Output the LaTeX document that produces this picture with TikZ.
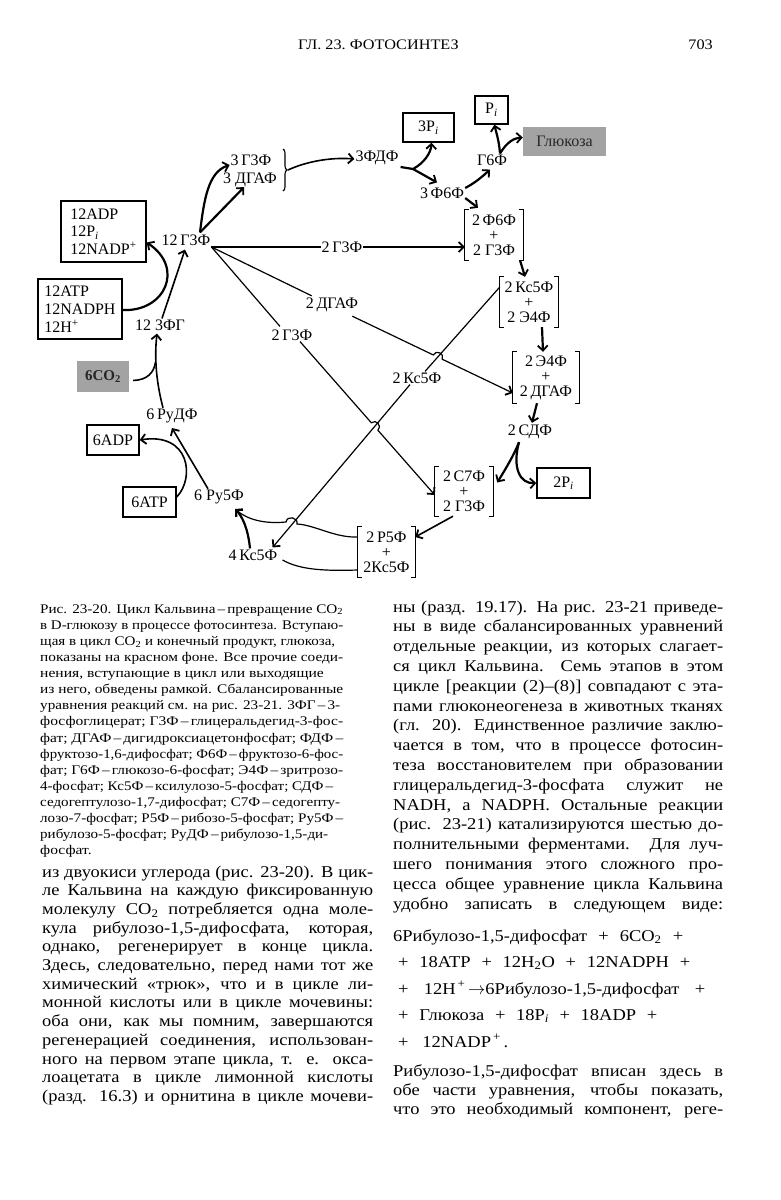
\documentclass[tikz,border=0pt]{standalone}
\usepackage{graphicx}
\usepackage{fontspec}
\setmainfont{Liberation Serif}[FakeStretch=1.12]
\newfontfamily\capfont{Liberation Serif}[FakeStretch=1.18]
\newfontfamily\diagfont{Liberation Serif}
\usetikzlibrary{arrows.meta,calc,decorations.pathreplacing}
\definecolor{greyfill}{gray}{0.64}
\newcommand\sqbr[1]{%
  \draw[line width=1.2pt] ([xshift=4pt]#1.north west) -- (#1.north west) -- (#1.south west) -- ([xshift=4pt]#1.south west);
  \draw[line width=1.2pt] ([xshift=-4pt]#1.north east) -- (#1.north east) -- (#1.south east) -- ([xshift=-4pt]#1.south east);}
\newcommand\sub[1]{\textsubscript{#1}}
\newsavebox\jlbox
\newcommand\jl[2]{\sbox\jlbox{#2}\ifdim\wd\jlbox>#1\relax\resizebox{#1}{\height}{\usebox\jlbox}\else\makebox[#1][s]{#2}\fi}
\begin{document}
\begin{tikzpicture}[x=1pt,y=-1pt,
  lab/.style={font=\diagfont\fontsize{16}{15}\selectfont, inner sep=1pt},
  boxn/.style={draw, line width=1.4pt, inner sep=0pt, font=\diagfont\fontsize{16}{17.5}\selectfont},
  greyb/.style={fill=greyfill, inner sep=0pt, font=\diagfont\fontsize{16}{17}\selectfont, text=black!85},
  brnode/.style={font=\diagfont\fontsize{16}{15}\selectfont, align=center, inner sep=0pt},
  thinl/.style={line width=1.2pt},
  midl/.style={line width=1.6pt},
  thickl/.style={line width=2.2pt},
  arr/.style={-{Straight Barb[length=5pt,width=10pt,line width=1.8pt]}},
  captxt/.style={anchor=base west, inner sep=0pt, font=\capfont\fontsize{13.2}{14}\selectfont},
  bodytxt/.style={anchor=base west, inner sep=0pt, font=\fontsize{16.5}{18}\selectfont},
]
\fill[white] (0,0) rectangle (781,1200);
\useasboundingbox (0,0) rectangle (781,1200);

% ---------- header ----------
\node[anchor=base west, inner sep=0pt, font=\fontsize{14.5}{16}\selectfont] (hdr) at (298,49) {ГЛ.\ 23.\ ФОТОСИНТЕЗ};
\node[anchor=base east, inner sep=0pt, font=\fontsize{14.5}{16}\selectfont] (pg) at (713,49) {703};

% ---------- diagram nodes ----------
\node[lab] (g12) at (186,240) {12\,Г3Ф};
\node[lab] (fg12) at (160,325) {12 3ФГ};
\node[boxn, minimum width=85pt, minimum height=61pt, align=left] (bADP12) at (103.5,231.5) {12ADP\\12P\sub{\textit{i}}\\12NADP\textsuperscript{+}};
\node[boxn, minimum width=84pt, minimum height=60pt, align=left, font=\diagfont\fontsize{16}{18}\selectfont] (bATP12) at (80,309) {12ATP\\12NADPH\\12H\textsuperscript{+}};
\node[lab] (t3G3F) at (251,160) {3\,Г3Ф};
\node[lab] (t3DGAF) at (250,180) {3 ДГАФ};
\coordinate (brtop) at (283,149);
\coordinate (brbot) at (283,191);
\coordinate (brtip) at (288,170);
\node[lab] (t3FDF) at (377,158) {3ФДФ};
\node[boxn, minimum width=51pt, minimum height=29pt] (b3Pi) at (428.5,127.5) {3P\sub{\textit{i}}};
\node[boxn, minimum width=33pt, minimum height=28pt] (bPi) at (491.5,110) {P\sub{\textit{i}}};
\node[greyb, minimum width=83pt, minimum height=29pt] (gluc) at (564.5,141.5) {Глюкоза};
\node[lab] (tG6F) at (492,160) {Г6Ф};
\node[lab] (t3F6F) at (442,193) {3\,Ф6Ф};
\node[brnode, minimum width=58pt, minimum height=50pt] (br1) at (494,235) {2\,Ф6Ф\\+\\2 Г3Ф};
\node[brnode, minimum width=58pt, minimum height=50pt] (br2) at (529,302) {2\,Кс5Ф\\+\\2 Э4Ф};
\node[brnode, minimum width=66pt, minimum height=51pt] (br3) at (546,377.5) {2\,Э4Ф\\+\\2\,ДГАФ};
\node[lab] (t2CDF) at (530,432) {2\,СДФ};
\node[boxn, minimum width=53pt, minimum height=30pt] (b2Pi) at (563.5,483) {2P\sub{\textit{i}}};
\node[brnode, minimum width=58pt, minimum height=49pt] (br4) at (464,491.5) {2\,С7Ф\\+\\2 Г3Ф};
\node[brnode, minimum width=57pt, minimum height=50pt] (br5) at (386.5,552) {2\,Р5Ф\\+\\2Кс5Ф};
\node[lab] (t4Kc5F) at (253,555) {4\,Кс5Ф};
\node[lab] (tPy5F) at (219,497) {6 Ру5Ф};
\node[boxn, minimum width=53pt, minimum height=30pt] (b6ATP) at (149.5,502) {6ATP};
\node[boxn, minimum width=52pt, minimum height=30pt] (b6ADP) at (113,440) {6ADP};
\node[lab] (tPyDF) at (172,416) {6\,РуДФ};
\node[greyb, minimum width=52pt, minimum height=31pt, font=\diagfont\bfseries\fontsize{15}{17}\selectfont] (co2) at (103,376.5) {6CO\sub{2}};
\node[lab] (t2G3Fa) at (342,247) {2\,Г3Ф};
\node[lab] (t2DGAF) at (332,305) {2\,ДГАФ};
\node[lab] (t2G3Fb) at (292,335) {2\,Г3Ф};
\node[lab] (t2Kc5F) at (417,378) {2\,Кс5Ф};

\sqbr{br1}\sqbr{br2}\sqbr{br3}\sqbr{br4}\sqbr{br5}
\draw[decorate, decoration={brace, amplitude=4pt}, line width=1.1pt] (brtop) -- (brbot);

% ---------- connector coordinates ----------
\coordinate (o) at ([yshift=-7pt]g12.east);
\coordinate (d1) at ([xshift=7pt,yshift=1pt]t2DGAF.north west);
\coordinate (d2) at ([xshift=-7pt,yshift=-3pt]t2DGAF.south east);
\coordinate (d3) at ([yshift=-15.5pt]br3.west);
\coordinate (k1) at ([yshift=15pt]br2.west);
\coordinate (k2) at ([xshift=8pt]t2Kc5F.north);
\coordinate (k3) at ([xshift=-7pt]t2Kc5F.south);
\coordinate (k4) at ([xshift=-6pt,yshift=1pt]t4Kc5F.north east);
\coordinate (g0) at ([xshift=-12pt,yshift=2pt]t2G3Fb.north);
\coordinate (g1) at ([xshift=8pt]t2G3Fb.south);
\coordinate (g2) at ([yshift=-3.5pt]br4.west);
\coordinate (x1) at (intersection of d2--d3 and k1--k2);
\coordinate (x2) at (intersection of g1--g2 and k3--k4);
\coordinate (hA) at (297,524);
\coordinate (hB) at (286,522);
\coordinate (p1) at ([yshift=15pt]br5.west);
\coordinate (pyin) at (235,509);
\coordinate (co2j) at (155.5,362);
\coordinate (j1) at (413,169);
\coordinate (j2) at ([xshift=8pt]tG6F.north);
\coordinate (j3) at ([xshift=-11pt,yshift=-2pt]t2CDF.south);

% ---------- long thin connectors ----------
\draw[thinl] (o) -- (o -| t2G3Fa.west);
\draw[thinl,arr] (t2G3Fa.east) -- (t2G3Fa.east -| br1.west);
\draw[thinl] (o) -- (d1);
\draw[thinl,arr] (d2) -- ($(x1)!5pt!(d2)$) to[bend left=90, looseness=1.6] ($(x1)!5pt!(d3)$) -- (d3);
\draw[thinl] (o) -- (g0);
\draw[thinl,arr] (g1) -- ($(x2)!5pt!(g1)$) to[bend left=90, looseness=1.6] ($(x2)!5pt!(g2)$) -- (g2);
\draw[thinl] (k1) -- (k2);
\draw[thinl,arr] (k3) -- (k4);
\draw[thinl,arr] (p1) .. controls (335,538) and (315,525) .. (hA) to[bend right=90, looseness=1.6] (hB) .. controls (265,524) and (248,520) .. (pyin);
\draw[thinl] ([yshift=-18pt]br5.west) .. controls (325,571) and (300,570) .. ([xshift=4pt,yshift=-5pt]t4Kc5F.east);

% ---------- left side ----------
\draw[thickl,arr] ([xshift=-3pt]t4Kc5F.north) .. controls (248,528) and (242,516) .. (pyin);
\draw[midl,arr] ([xshift=-11pt]tPy5F.north) -- ([yshift=-12pt]tPyDF.center);
\draw[midl,arr] ([yshift=5pt]b6ATP.east) .. controls (195,478) and (190,432) .. (b6ADP.east);
\draw[midl,arr] ([xshift=-9pt]tPyDF.north) .. controls (157,385) and (154,360) .. ([xshift=-3pt,yshift=-2pt]fg12.south);
\draw[midl] ([xshift=4pt,yshift=-4pt]co2.east) .. controls (147,380) and (154,373) .. (co2j);
\draw[midl,arr] ([xshift=2pt]fg12.north) -- ([xshift=-1pt,yshift=-3pt]g12.south);
\draw[thickl,arr] ([yshift=-1pt]bATP12.east) .. controls (165,312) and (185,268) .. ([yshift=-11pt]bADP12.east);

% ---------- top ----------
\draw[thickl,arr] ([xshift=14pt,yshift=1pt]g12.north) .. controls (204,200) and (208,172) .. ([yshift=-5pt]t3G3F.west);
\draw[thickl,arr] ([xshift=14pt,yshift=1pt]g12.north) -- ([xshift=-6pt,yshift=1pt]t3DGAF.south);
\draw[midl,arr] (brtip) .. controls (305,162) and (330,157) .. ([yshift=-1pt]t3FDF.west);
\draw[thickl] ([xshift=1pt,yshift=-9pt]t3FDF.east) -- (j1);
\draw[thickl,arr] (j1) .. controls (424,163) and (431,153) .. ([xshift=3pt]b3Pi.south);
\draw[thickl,arr] (j1) -- ([xshift=-5pt,yshift=4pt]t3F6F.north);
\draw[thickl,arr] ([yshift=5pt]t3F6F.east) .. controls (475,183) and (483,176) .. ([xshift=-2pt,yshift=-3pt]tG6F.south);
\draw[thickl,arr] ([yshift=-5pt]t3F6F.east) -- ([xshift=-16pt,yshift=2pt]br1.north);
\draw[thickl,arr] (j2) .. controls (499,140) and (496,132) .. ([xshift=3pt]bPi.south);
\draw[thickl,arr] (j2) .. controls (507,142) and (514,138) .. ([yshift=4pt]gluc.west);

% ---------- right side ----------
\draw[thickl,arr] ([xshift=26pt]br1.south) -- ([xshift=-4pt]br2.north);
\draw[thickl,arr] ([xshift=13pt]br2.south) -- ([xshift=-3pt]br3.north);
\draw[thickl,arr] ([xshift=-9pt]br3.south) -- ([xshift=2pt,yshift=1pt]t2CDF.north);
\draw[thickl,arr] (j3) .. controls (514,455) and (505,470) .. ([xshift=4pt,yshift=9pt]br4.east);
\draw[thickl,arr] (j3) .. controls (512,468) and (520,484) .. (b2Pi.west);
\draw[midl,arr] ([xshift=-11pt]br4.south) -- ([yshift=15pt]br5.east);

% ---------- caption ----------
\foreach \w/\t [count=\i] in {
 303/{Рис. 23-20. Цикл Кальвина\,–\,превращение CO\sub{2}},
 303/{в D-глюкозу в процессе фотосинтеза. Вступаю-},
 295/{щая в цикл CO\sub{2} и конечный продукт, глюкоза,},
 303/{показаны на красном фоне. Все прочие соеди-},
 0/{нения, вступающие в цикл или выходящие},
 303/{из него, обведены рамкой. Сбалансированные},
 300/{уравнения реакций см. на рис. 23-21. 3ФГ\,–\,3-},
 303/{фосфоглицерат; Г3Ф\,–\,глицеральдегид-3-фос-},
 303/{фат; ДГАФ\,–\,дигидроксиацетонфосфат; ФДФ\,–},
 303/{фруктозо-1,6-дифосфат; Ф6Ф\,–\,фруктозо-6-фос-},
 303/{фат; Г6Ф\,–\,глюкозо-6-фосфат; Э4Ф\,–\,зритрозо-},
 293/{4-фосфат; Кс5Ф\,–\,ксилулозо-5-фосфат; СДФ\,–},
 300/{седогептулозо-1,7-дифосфат; С7Ф\,–\,седогепту-},
 303/{лозо-7-фосфат; Р5Ф\,–\,рибозо-5-фосфат; Ру5Ф\,–},
 288/{рибулозо-5-фосфат; РуДФ\,–\,рибулозо-1,5-ди-},
 0/{фосфат.}}
{\node[captxt] (cap\i) at (40,{613+16.13*(\i-1)}) {\ifnum\w=0 \t\else\jl{\w pt}{\t}\fi};}

% ---------- left column ----------
\foreach \t [count=\i] in {
 {из двуокиси углерода (рис. 23-20). В цик-},
 {ле Кальвина на каждую фиксированную},
 {молекулу CO\sub{2} потребляется одна моле-},
 {кула рибулозо-1,5-дифосфата, которая,},
 {однако, регенерирует в конце цикла.},
 {Здесь, следовательно, перед нами тот же},
 {химический «трюк», что и в цикле ли-},
 {монной кислоты или в цикле мочевины:},
 {оба они, как мы помним, завершаются},
 {регенерацией соединения, использован-},
 {ного на первом этапе цикла, т. е. окса-},
 {лоацетата в цикле лимонной кислоты},
 {(разд. 16.3) и орнитина в цикле мочеви-}}
{\node[bodytxt] (lc\i) at (42,{877+18.7*(\i-1)}) {\jl{331pt}{\t}};}

% ---------- right column ----------
\foreach \t [count=\i] in {
 {ны (разд. 19.17). На рис. 23-21 приведе-},
 {ны в виде сбалансированных уравнений},
 {отдельные реакции, из которых слагает-},
 {ся цикл Кальвина. Семь этапов в этом},
 {цикле [реакции (2)–(8)] совпадают с эта-},
 {пами глюконеогенеза в животных тканях},
 {(гл. 20). Единственное различие заклю-},
 {чается в том, что в процессе фотосин-},
 {теза восстановителем при образовании},
 {глицеральдегид-3-фосфата служит не},
 {NADH, а NADPH. Остальные реакции},
 {(рис. 23-21) катализируются шестью до-},
 {полнительными ферментами. Для луч-},
 {шего понимания этого сложного про-},
 {цесса общее уравнение цикла Кальвина},
 {удобно записать в следующем виде:}}
{\node[bodytxt] (rc\i) at (393,{612+19.8*(\i-1)}) {\jl{330pt}{\t}};}

% ---------- equation ----------
\node[bodytxt] (eq1) at (393,941) {\jl{290pt}{6Рибулозо-1,5-дифосфат + 6CO\sub{2} +}};
\node[bodytxt] (eq2) at (398,967) {\jl{292pt}{+ 18ATP + 12H\sub{2}O + 12NADPH +}};
\node[bodytxt] (eq3) at (398,994) {\jl{307pt}{+ 12H\textsuperscript{\,+}\,$\rightarrow$6Рибулозо-1,5-дифосфат +}};
\node[bodytxt] (eq4) at (398,1020) {\jl{259pt}{+ Глюкоза + 18P\sub{\textit{i}} + 18ADP +}};
\node[bodytxt] (eq5) at (398,1047) {\jl{110pt}{+ 12NADP\textsuperscript{\,+}\,.}};

% ---------- final paragraph ----------
\foreach \t [count=\i] in {
 {Рибулозо-1,5-дифосфат вписан здесь в},
 {обе части уравнения, чтобы показать,},
 {что это необходимый компонент, реге-}}
{\node[bodytxt] (fp\i) at (393,{1076+19*(\i-1)}) {\jl{330pt}{\t}};}
\end{tikzpicture}
\end{document}
